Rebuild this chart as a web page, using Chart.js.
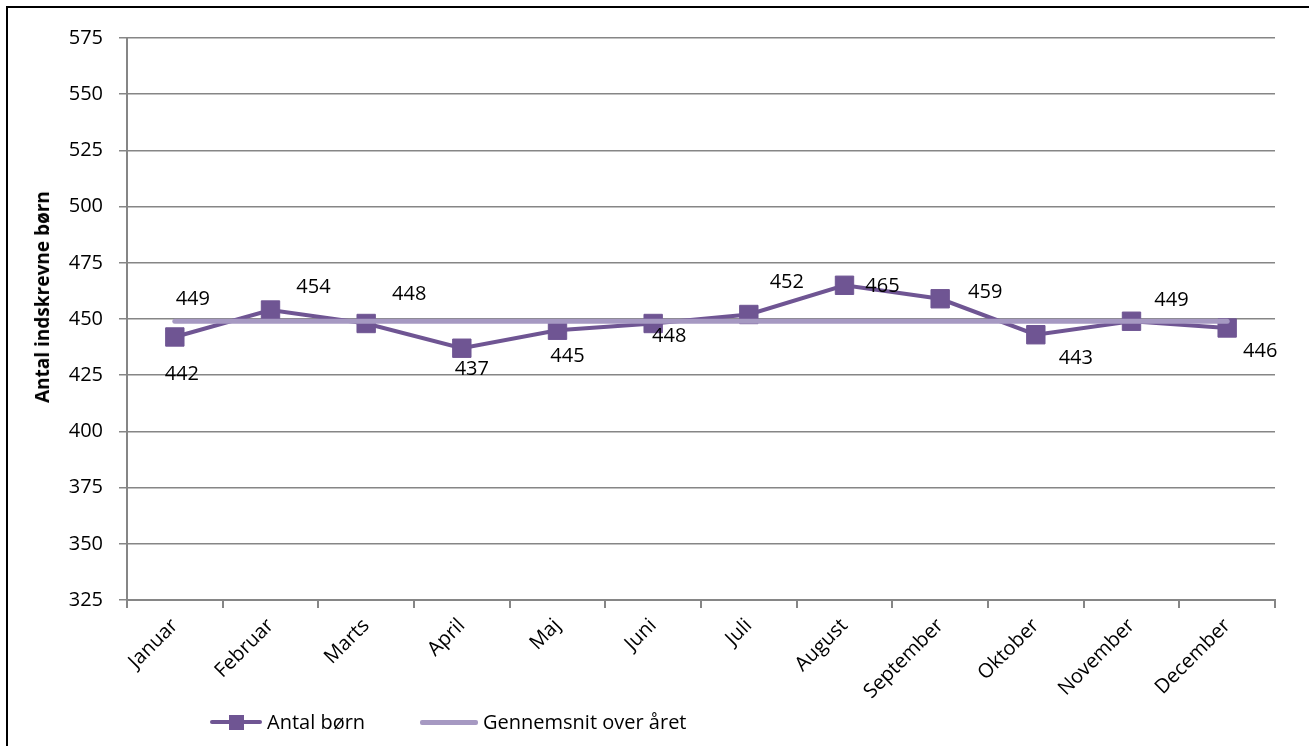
<!DOCTYPE html>
<html>
<head>
<meta charset="utf-8">
<script src="https://cdn.jsdelivr.net/npm/chart.js@4.4.1/dist/chart.umd.min.js"></script>
<style>
  html, body { margin: 0; padding: 0; background: #fff; }
  #wrap { position: relative; width: 1309px; height: 746px; overflow: hidden; font-family: "Open Sans", sans-serif; }
  #frame { position: absolute; left: 6px; top: 6px; width: 1400px; height: 800px; border-left: 2px solid #000; border-top: 2px solid #000; }
  canvas { position: absolute; left: 0; top: 0; }
  #ytitle { position: absolute; left: 42px; top: 297px; transform: translate(-50%, -50%) rotate(-90deg); white-space: nowrap; font-weight: bold; font-size: 19px; color: #000; }
  .leg { position: absolute; top: 709px; height: 26px; font-size: 20px; line-height: 26px; color: #000; }
  .leg .ln { position: absolute; top: 11px; height: 4px; border-radius: 2px; }
  .leg .sq { position: absolute; top: 6px; width: 15px; height: 15px; }
  .leg .tx { position: absolute; white-space: nowrap; }
</style>
</head>
<body>
<div id="wrap">
  <div id="frame"></div>
  <canvas id="grafik" width="1309" height="746"></canvas>
  <div id="ytitle">Antal indskrevne børn</div>
  <div class="leg" style="left:210px">
    <div class="ln" style="left:0;width:52px;background:#6f5593"></div>
    <div class="sq" style="left:19px;background:#6f5593"></div>
    <span class="tx" style="left:57px">Antal børn</span>
  </div>
  <div class="leg" style="left:420px">
    <div class="ln" style="left:0;width:58px;height:5px;background:#a699c2"></div>
    <span class="tx" style="left:63px">Gennemsnit over året</span>
  </div>
</div>
<script>
// ===== data =====
const bulan = ["Januar","Februar","Marts","April","Maj","Juni","Juli","August","September","Oktober","November","December"];
const antalBorn = [442, 454, 448, 437, 445, 448, 452, 465, 459, 443, 449, 446];
const gennemsnit = [449, 449, 449, 449, 449, 449, 449, 449, 449, 449, 449, 449];
const yTicks = [325, 350, 375, 400, 425, 450, 475, 500, 525, 550, 575];

// label offsets (px) from each point, main series
const labelOffset = [[7,37],[43,-23],[43,-29],[10,21],[10,26],[16,13],[38,-32],[38,1],[45,-6],[40,24],[40,-21],[33,23]];
// average series only labelled on first point
const avgLabelOffset = [18,-22];

const gridColor = "#868686";
const fontFam = "'Open Sans', sans-serif";

// ===== plugin: value labels =====
const valueLabels = {
  id: "valueLabels",
  afterDatasetsDraw(chart) {
    const ctx = chart.ctx;
    ctx.save();
    ctx.font = "20px " + fontFam;
    ctx.fillStyle = "#000";
    ctx.textAlign = "center";
    ctx.textBaseline = "middle";
    const pts = chart.getDatasetMeta(0).data;
    pts.forEach((p, i) => {
      ctx.fillText(String(antalBorn[i]), p.x + labelOffset[i][0], p.y + labelOffset[i][1]);
    });
    const a = chart.getDatasetMeta(1).data[0];
    ctx.fillText(String(gennemsnit[0]), a.x + avgLabelOffset[0], a.y + avgLabelOffset[1]);
    ctx.restore();
  }
};

new Chart(document.getElementById("grafik"), {
  type: "line",
  data: {
    labels: bulan,
    datasets: [
      {
        label: "Antal børn",
        data: antalBorn,
        borderColor: "#6f5593",
        backgroundColor: "#6f5593",
        borderWidth: 4,
        pointStyle: "rect",
        pointRadius: 13,
        pointBorderWidth: 1,
        pointBorderColor: "#6f5593",
        pointBackgroundColor: "#6f5593",
        tension: 0,
        order: 2
      },
      {
        label: "Gennemsnit over året",
        data: gennemsnit,
        borderColor: "#a699c2",
        borderWidth: 5,
        borderCapStyle: "round",
        pointRadius: 0,
        tension: 0,
        order: 1
      }
    ]
  },
  options: {
    responsive: false,
    animation: false,
    events: [],
    layout: { padding: { left: 32, right: 34, top: 38, bottom: 0 } },
    plugins: {
      legend: { display: false },
      tooltip: { enabled: false }
    },
    scales: {
      x: {
        offset: true,
        grid: { offset: true, drawOnChartArea: false, drawTicks: true, tickLength: 8, color: gridColor, lineWidth: 2 },
        border: { color: gridColor, width: 2 },
        ticks: { color: "#000", font: { family: fontFam, size: 20 }, minRotation: 45, maxRotation: 45, padding: 6, autoSkip: false },
        afterFit: s => { s.height = 146; }
      },
      y: {
        min: 325,
        max: 575,
        afterBuildTicks: s => { s.ticks = yTicks.map(v => ({ value: v })); },
        grid: { color: gridColor, lineWidth: 1.5, tickLength: 8 },
        border: { color: gridColor, width: 2 },
        ticks: { color: "#000", font: { family: fontFam, size: 20 }, padding: 16 },
        afterFit: s => { s.width = 95; }
      }
    }
  },
  plugins: [valueLabels]
});
</script>
</body>
</html>
